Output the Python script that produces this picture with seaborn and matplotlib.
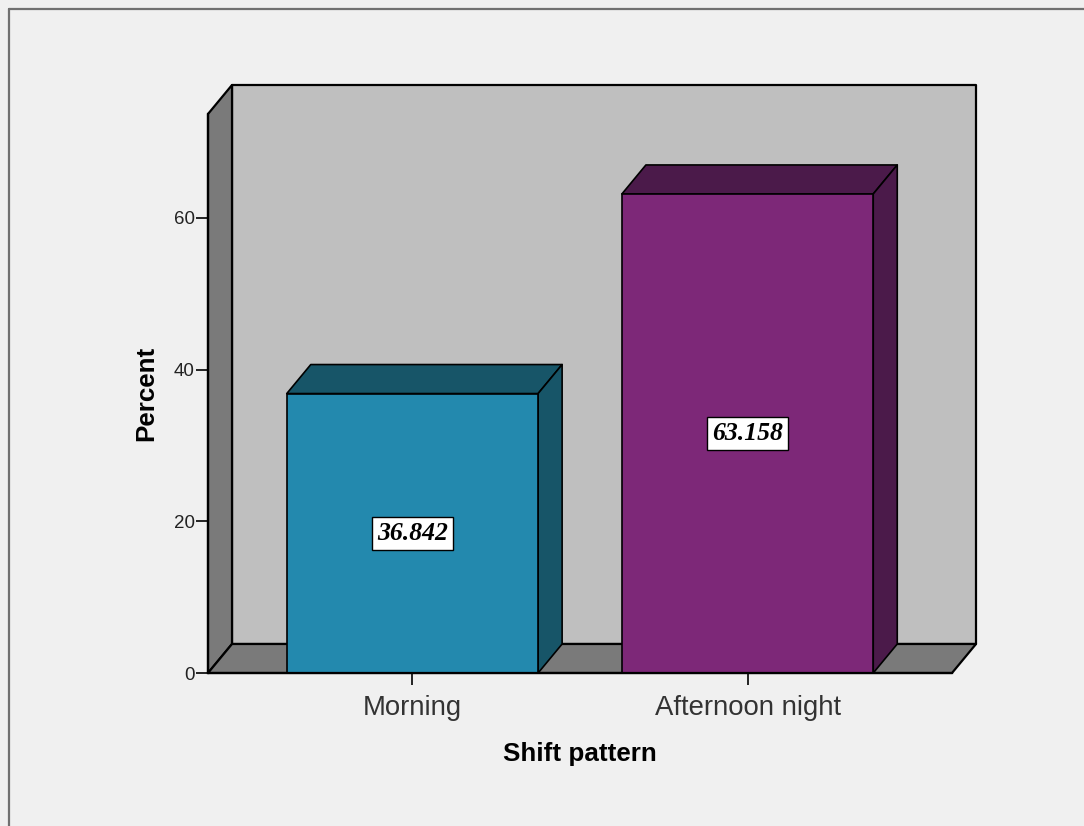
#!/usr/bin/env python3
import matplotlib
matplotlib.use("Agg")
import matplotlib.pyplot as plt
import pandas as pd
import seaborn as sns
from matplotlib.lines import Line2D
from matplotlib.patches import Polygon

shifts = ["Morning", "Afternoon night"]
percents = [36.842, 63.158]
bar_colors = ["#2389ae", "#7d2878"]
top_colors = ["#175568", "#4b1a4a"]
y_ticks = [0, 20, 40, 60]

BG = "#f0f0f0"
WALL = "#bfbfbf"
FLOOR = "#7a7a7a"

sns.set_theme(style="white")
plt.rcParams["font.family"] = ["Liberation Sans", "DejaVu Sans"]

W, H = 1084, 826
fig = plt.figure(figsize=(W / 100, H / 100), dpi=100, facecolor=BG)
# front plane of the fake 3D box, in pixels
left, right, top, bottom = 208, 952, 114, 673
ax = fig.add_axes([left / W, 1 - bottom / H, (right - left) / W, (bottom - top) / H])
ax.set_facecolor("none")

df = pd.DataFrame({"shift": shifts, "percent": percents})
sns.barplot(
    data=df, x="shift", y="percent", hue="shift", palette=bar_colors,
    saturation=1, width=0.75, edgecolor="black", linewidth=1.2,
    legend=False, zorder=5, ax=ax,
)
ax.set_xlim(-0.61, 1.61)
ax.set_ylim(0, 73.7)

# depth of the 3D effect
dx = 24 / 335
dy = 29 / (455 / 60)
x0, x1 = ax.get_xlim()
y1 = ax.get_ylim()[1]


def poly(pts, color, z, lw=1.6):
    ax.add_patch(Polygon(pts, closed=True, facecolor=color, edgecolor="black",
                         linewidth=lw, joinstyle="round", clip_on=False, zorder=z))


# back wall, side wall, floor
poly([(x0 + dx, dy), (x1 + dx, dy), (x1 + dx, y1 + dy), (x0 + dx, y1 + dy)], WALL, 1)
poly([(x0, 0), (x0 + dx, dy), (x0 + dx, y1 + dy), (x0, y1)], FLOOR, 2)
poly([(x0, 0), (x1, 0), (x1 + dx, dy), (x0 + dx, dy)], FLOOR, 2)

# sides and tops of the bars
for bar, c in zip(ax.patches[:2], top_colors):
    a = bar.get_x()
    b = a + bar.get_width()
    h = bar.get_height()
    poly([(a, h), (b, h), (b + dx, h + dy), (a + dx, h + dy)], c, 4, lw=1.2)
    poly([(b, 0), (b + dx, dy), (b + dx, h + dy), (b, h)], c, 4, lw=1.2)

# value boxes
for i, v in enumerate(percents):
    ax.text(i, v / 2, f"{v:.3f}", ha="center", va="center", color="black",
            family=["Liberation Serif"], style="italic", weight="bold", fontsize=18.5,
            bbox=dict(boxstyle="square,pad=0.2", fc="white", ec="black", lw=1),
            zorder=6)

for s in ["top", "right"]:
    ax.spines[s].set_visible(False)
for s in ["left", "bottom"]:
    ax.spines[s].set_linewidth(1.6)
    ax.spines[s].set_color("black")
    ax.spines[s].set_zorder(7)

ax.set_yticks(y_ticks)
ax.tick_params(axis="y", left=True, length=8.6, width=1.2, color="black",
               labelsize=13.5, labelcolor="#222222", pad=1)
ax.tick_params(axis="x", bottom=True, length=8.6, width=1.2, color="black",
               labelsize=19.8, labelcolor="#333333", pad=7)
ax.set_xlabel("Shift pattern", fontsize=18.7, fontweight="bold", color="black", labelpad=15)
ax.set_ylabel("Percent", fontsize=18.7, fontweight="bold", color="black", labelpad=11)

# chart frame, cropped on the right and at the bottom
fig.add_artist(Line2D([9 / W, 9 / W], [0, 1 - 9 / H], color="#707070", lw=1.6))
fig.add_artist(Line2D([9 / W, 1], [1 - 9 / H, 1 - 9 / H], color="#707070", lw=1.6))

fig.savefig("out.png", dpi=100, facecolor=BG)
